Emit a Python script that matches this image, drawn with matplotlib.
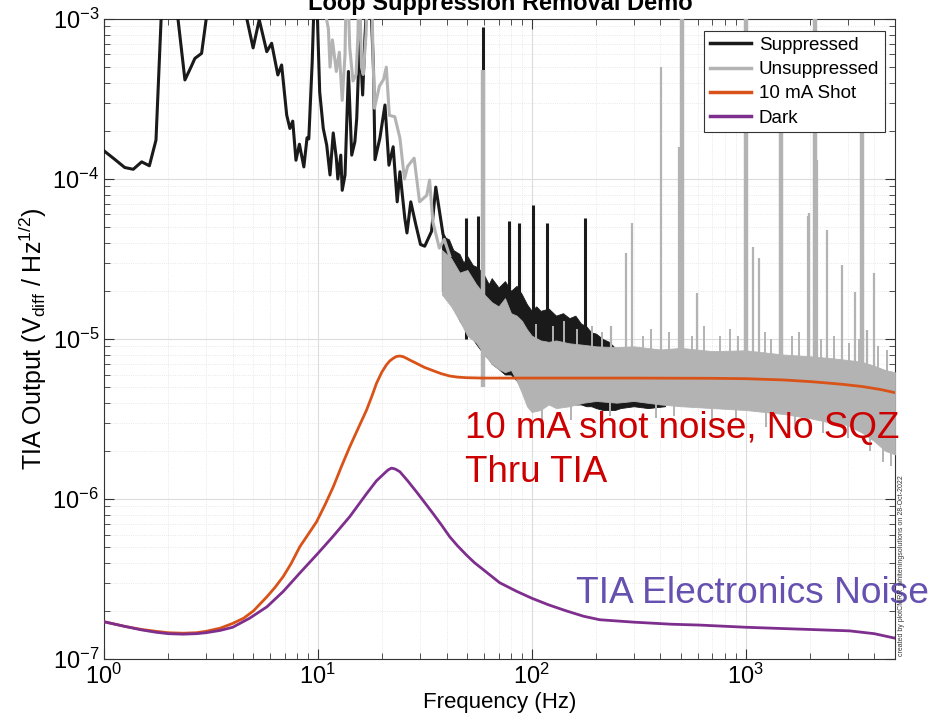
import matplotlib
matplotlib.use('Agg')
import matplotlib.pyplot as plt
import numpy as np

plt.rcParams['font.family'] = ['Liberation Sans', 'DejaVu Sans']
plt.rcParams['mathtext.fontset'] = 'custom'
plt.rcParams['mathtext.rm'] = 'Liberation Sans'
plt.rcParams['mathtext.it'] = 'Liberation Sans:italic'


# Suppressed spectrum, low-frequency part (Hz, V/rtHz)
supp_lf = [(1.00, 1.50e-4), (1.12, 1.33e-4), (1.25, 1.18e-4), (1.37, 1.15e-4), (1.50, 1.28e-4),
           (1.63, 1.21e-4), (1.75, 1.75e-4), (1.86, 1.2e-3), (2.0, 3e-3), (2.2, 1.1e-3),
           (2.39, 4.16e-4), (2.55, 5.0e-4), (2.66, 5.67e-4), (2.86, 6.1e-4), (3.02, 1.05e-3),
           (3.5, 3e-3), (4.2, 2.5e-3), (4.62, 1.05e-3), (4.98, 6.6e-4), (5.32, 9.9e-4),
           (5.77, 6.25e-4), (6.08, 7.05e-4), (6.5, 4.47e-4), (6.77, 5.16e-4), (7.15, 2.51e-4),
           (7.4, 2.07e-4), (7.63, 2.3e-4), (7.9, 1.31e-4), (8.2, 1.65e-4), (8.6, 1.19e-4),
           (8.9, 1.81e-4), (9.07, 1.78e-4), (9.41, 5.4e-4), (9.75, 2.5e-3), (10.2, 3.5e-4),
           (10.6, 2.07e-4), (11.0, 1.63e-4), (11.4, 1.06e-4), (11.8, 1.94e-4), (12.2, 1.35e-4),
           (12.4, 1.0e-4), (12.8, 1.41e-4), (13.0, 8.5e-5), (13.4, 1.06e-4), (13.9, 4.7e-4),
           (14.4, 1.41e-4), (14.9, 1.71e-4), (15.2, 2.4e-4), (15.7, 7.9e-4), (16.2, 3.35e-4),
           (16.6, 7.6e-4), (16.9, 1.2e-3), (17.6, 1.5e-3), (18.2, 5e-4), (18.5, 1.32e-4),
           (19.5, 1.8e-4), (20.6, 2.9e-4), (21.5, 1.22e-4), (22.5, 1.59e-4), (23.5, 7.2e-5),
           (24.2, 1.11e-4), (25.5, 5.7e-5), (26.1, 4.6e-5), (27.2, 7.2e-5), (28.7, 5.2e-5),
           (30.2, 3.9e-5), (31.6, 3.8e-5), (34.0, 4.7e-5), (35.6, 8.9e-5), (38.5, 4.5e-5),
           (41.4, 3.7e-5)]

# Suppressed spectrum above 40 Hz: envelope of the dense trace (Hz, top, bottom)
supp_band = [(38, 4.4e-5, 2.0e-5), (41, 4.2e-5, 1.8e-5), (43, 3.6e-5, 1.6e-5), (46, 3.4e-5, 1.3e-5),
             (48, 3.0e-5, 1.2e-5), (50, 3.3e-5, 1.1e-5), (53, 2.9e-5, 1.0e-5), (56, 2.8e-5, 9e-6),
             (60, 2.5e-5, 8e-6), (63, 2.2e-5, 7.5e-6), (65, 2.4e-5, 7e-6), (70, 2.1e-5, 6.5e-6),
             (75, 2.3e-5, 6e-6), (80, 2.0e-5, 6e-6), (85, 2.15e-5, 5.5e-6), (90, 1.9e-5, 5e-6),
             (95, 1.65e-5, 4.5e-6), (100, 1.5e-5, 4.2e-6), (105, 1.6e-5, 4.2e-6), (110, 1.5e-5, 4.2e-6),
             (120, 1.55e-5, 4.0e-6), (130, 1.4e-5, 4.0e-6), (140, 1.45e-5, 4.0e-6), (150, 1.35e-5, 4.0e-6),
             (160, 1.4e-5, 3.9e-6), (170, 1.25e-5, 3.9e-6), (180, 1.2e-5, 3.8e-6), (190, 1.1e-5, 3.8e-6),
             (200, 1.08e-5, 3.7e-6), (215, 1.0e-5, 3.6e-6), (230, 9.6e-6, 3.6e-6), (245, 8.8e-6, 3.6e-6),
             (260, 7e-6, 3.7e-6), (300, 7e-6, 3.8e-6), (350, 7e-6, 3.7e-6), (420, 7e-6, 3.8e-6)]

# Lines where the suppressed trace pokes above the rest (Hz, peak)
supp_lines = [(49.5, 5.7e-5), (56, 5.9e-5), (59.5, 8.9e-4), (78, 5.5e-5), (87, 5.3e-5),
              (101, 6.9e-5), (118, 5.3e-5), (178, 5.7e-5)]

# Unsuppressed spectrum, low-frequency part
unsupp_lf = [(10.6, 3e-3), (10.9, 1.05e-3), (11.2, 8.7e-4), (11.4, 5.0e-4), (11.7, 7.4e-4),
             (12.2, 4.7e-4), (12.6, 6.2e-4), (13.0, 3.1e-4), (13.4, 6e-4), (13.6, 2e-3),
             (13.9, 1.2e-3), (14.1, 6.6e-4), (14.6, 4.1e-4), (15.1, 4.5e-4), (15.4, 8e-4),
             (15.6, 2e-3), (16.0, 5e-4), (16.3, 4.5e-4), (16.8, 8e-4), (17.2, 2e-3),
             (17.8, 2e-3), (18.1, 6e-4), (18.4, 2.77e-4), (19.4, 3.8e-4), (20.3, 4.2e-4),
             (20.9, 5.0e-4), (21.6, 2.5e-4), (22.9, 2.45e-4), (24.2, 1.8e-4), (25.4, 1.0e-4),
             (26.3, 1.2e-4), (28.2, 1.35e-4), (29.9, 7.2e-5), (32.3, 7.9e-5), (33.3, 9.85e-5),
             (34.5, 5.4e-5), (37.0, 3.7e-5), (39.0, 4.2e-5), (41.4, 3.3e-5)]

# Unsuppressed spectrum above 40 Hz: envelope (Hz, top, bottom)
unsupp_band = [(38, 3.6e-5, 1.9e-5), (42, 3.2e-5, 1.6e-5), (46, 2.6e-5, 1.3e-5), (50, 2.7e-5, 1.05e-5),
               (55, 2.2e-5, 9.5e-6), (60, 1.9e-5, 8e-6), (65, 1.7e-5, 7e-6), (70, 1.6e-5, 6.5e-6),
               (75, 1.8e-5, 6.2e-6), (80, 1.45e-5, 6.4e-6), (85, 1.4e-5, 5.5e-6), (90, 1.3e-5, 4.6e-6),
               (95, 1.15e-5, 3.8e-6), (100, 1.05e-5, 3.5e-6), (110, 9.8e-6, 3.6e-6), (120, 9.6e-6, 3.9e-6),
               (130, 9.8e-6, 3.7e-6), (150, 9.4e-6, 3.8e-6), (175, 9.2e-6, 4.0e-6), (200, 9.0e-6, 4.1e-6),
               (250, 8.9e-6, 4.0e-6), (300, 9.0e-6, 4.1e-6), (400, 8.6e-6, 3.9e-6), (500, 8.8e-6, 3.8e-6),
               (700, 8.4e-6, 3.7e-6), (1000, 8.5e-6, 3.6e-6), (1500, 8.0e-6, 3.4e-6), (2000, 7.8e-6, 3.2e-6),
               (2500, 7.6e-6, 3.0e-6), (3000, 7.4e-6, 2.9e-6), (3500, 7.2e-6, 2.6e-6), (4000, 6.8e-6, 2.3e-6),
               (4500, 6.4e-6, 2.0e-6), (5000, 6.2e-6, 1.9e-6)]

# Spectral lines in the unsuppressed trace (Hz, peak, thick?)
unsupp_lines = [(59.5, 4.8e-4, True), (236, 1.2e-5, False), (276, 3.45e-5, False), (294, 5.3e-5, False),
                (403, 5.0e-4, False), (490, 1.58e-4, False), (505, 3e-3, True), (596, 1.94e-5, False),
                (1000, 3e-3, True), (1080, 3.76e-5, False), (1150, 3.2e-5, False), (1470, 2.08e-4, True),
                (1950, 5.9e-5, False), (1990, 6.1e-5, False), (2120, 3e-3, True), (2150, 1.32e-4, False),
                (2400, 4.8e-5, False), (2830, 2.9e-5, False), (3250, 1.97e-5, False), (3520, 2.34e-4, True),
                (3700, 1.14e-5, False), (3980, 2.6e-5, False)]

# Short excursions on the top and bottom edge of the unsuppressed floor (Hz, value)
unsupp_ripple_up = [(105, 1.25e-5), (126, 1.2e-5), (142, 1.3e-5), (163, 1.15e-5), (191, 1.2e-5),
                    (214, 1.1e-5), (330, 1.05e-5), (362, 1.15e-5), (441, 1.1e-5), (560, 1.05e-5),
                    (640, 1.2e-5), (760, 1.05e-5), (850, 1.15e-5), (920, 1.05e-5), (1230, 1.1e-5),
                    (1320, 1.0e-5), (1650, 1.05e-5), (1780, 1.1e-5), (2250, 1.0e-5), (2600, 1.05e-5),
                    (3050, 9.5e-6), (3400, 1.0e-5), (4150, 9e-6), (4600, 8.5e-6)]
unsupp_ripple_dn = [(112, 3.0e-6), (152, 3.1e-6), (232, 3.3e-6), (380, 3.2e-6), (462, 3.3e-6),
                    (700, 3.0e-6), (905, 3.1e-6), (1250, 2.8e-6), (1700, 2.7e-6), (2300, 2.6e-6),
                    (3000, 2.4e-6), (3800, 2.0e-6), (4400, 1.7e-6), (4800, 1.6e-6)]

# 10 mA shot noise through the TIA
shot = [(1.0, 1.71e-7), (1.25, 1.6e-7), (1.5, 1.53e-7), (1.75, 1.49e-7), (2.0, 1.46e-7),
        (2.34, 1.45e-7), (2.7, 1.46e-7), (3.0, 1.49e-7), (3.5, 1.56e-7), (4.0, 1.67e-7),
        (4.5, 1.8e-7), (5.0, 2.0e-7), (5.78, 2.45e-7), (6.3, 2.8e-7), (6.88, 3.27e-7),
        (7.5, 3.95e-7), (8.24, 5.04e-7), (9.0, 6.0e-7), (9.86, 7.2e-7), (10.8, 9.2e-7),
        (11.8, 1.19e-6), (12.9, 1.6e-6), (14.1, 2.12e-6), (15.5, 2.8e-6), (16.9, 3.6e-6),
        (17.9, 4.4e-6), (18.8, 5.28e-6), (19.9, 6.2e-6), (20.9, 6.88e-6), (21.7, 7.3e-6),
        (22.5, 7.57e-6), (23.3, 7.78e-6), (24.2, 7.83e-6), (25.1, 7.75e-6), (26.0, 7.57e-6),
        (27.4, 7.3e-6), (28.9, 7.05e-6), (31.5, 6.65e-6), (34.6, 6.34e-6), (37.8, 6.07e-6),
        (41.4, 5.87e-6), (45, 5.78e-6), (49.5, 5.73e-6), (59.2, 5.70e-6), (100, 5.7e-6),
        (300, 5.7e-6), (700, 5.68e-6), (1000, 5.65e-6), (1500, 5.55e-6), (2040, 5.41e-6),
        (2800, 5.22e-6), (3540, 5.04e-6), (4300, 4.83e-6), (5000, 4.62e-6)]

# TIA dark noise
dark = [(1.0, 1.71e-7), (1.25, 1.6e-7), (1.5, 1.52e-7), (1.75, 1.47e-7), (2.0, 1.44e-7),
        (2.34, 1.43e-7), (2.7, 1.44e-7), (3.0, 1.46e-7), (3.5, 1.51e-7), (4.0, 1.58e-7),
        (4.8, 1.8e-7), (5.78, 2.12e-7), (6.9, 2.65e-7), (8.24, 3.45e-7), (10.0, 4.57e-7),
        (11.75, 5.82e-7), (14.1, 7.76e-7), (16.9, 1.08e-6), (18.8, 1.3e-6), (20.5, 1.45e-6),
        (21.3, 1.52e-6), (22.1, 1.56e-6), (23.0, 1.54e-6), (24.2, 1.48e-6), (26.3, 1.3e-6),
        (28.9, 1.11e-6), (31.6, 9.5e-7), (34.6, 8.1e-7), (37.8, 6.9e-7), (41.4, 5.8e-7),
        (45, 5.1e-7), (49.5, 4.47e-7), (54, 4.0e-7), (59.2, 3.63e-7), (70.8, 3.0e-7),
        (85, 2.65e-7), (100, 2.4e-7), (120, 2.18e-7), (145, 2.0e-7), (175, 1.85e-7),
        (208, 1.76e-7), (300, 1.7e-7), (450, 1.65e-7), (610, 1.63e-7), (1000, 1.58e-7),
        (1500, 1.55e-7), (2000, 1.53e-7), (3060, 1.50e-7), (4000, 1.44e-7), (5000, 1.35e-7)]


def cols(pts):
    return [np.array(c) for c in zip(*pts)]


fig = plt.figure(figsize=(9.32, 7.25), dpi=100)
ax = fig.add_axes([0.1116, 0.091, 0.8487, 0.8828])

black = '#1a1a1a'
grey = '#b3b3b3'

# Suppressed
f, v = cols(supp_lf)
ax.loglog(f, v, color=black, lw=2.2, label='Suppressed', zorder=3)
f, hi, lo = cols(supp_band)
ax.fill_between(f, lo, hi, color=black, lw=0.6, zorder=3)
f, v = cols(supp_lines)
ax.vlines(f, 1e-5, v, color=black, lw=2.2, zorder=3)

# Unsuppressed
f, v = cols(unsupp_lf)
ax.loglog(f, v, color=grey, lw=2.2, label='Unsuppressed', zorder=4)
f, hi, lo = cols(unsupp_band)
ax.fill_between(f, lo, hi, color=grey, lw=0.6, zorder=4)
f, v, thick = cols(unsupp_lines)
ax.vlines(f, 5e-6, v, color=grey, lw=np.where(thick, 3.2, 1.6), zorder=4)
f, v = cols(unsupp_ripple_up)
ax.vlines(f, 5e-6, v, color=grey, lw=1.4, zorder=4)
f, v = cols(unsupp_ripple_dn)
ax.vlines(f, v, 5e-6, color=grey, lw=1.4, zorder=4)

# Reference curves
f, v = cols(shot)
ax.loglog(f, v, color='#d95319', lw=2.0, label='10 mA Shot', zorder=5)
f, v = cols(dark)
ax.loglog(f, v, color='#7e2f8e', lw=2.0, label='Dark', zorder=5)

ax.set_xlim(1, 5000)
ax.set_ylim(1e-7, 1e-3)
ax.grid(True, which='major', color='#dcdcdc', lw=0.8)
ax.grid(True, which='minor', color='#e2e2e2', lw=0.6, ls=':')
ax.set_axisbelow(True)
ax.tick_params(which='both', direction='in', top=True, right=True, labelsize=17, color='#333333')
ax.tick_params(which='major', length=7, width=0.8)
ax.tick_params(which='minor', length=4, width=0.6)
for s in ax.spines.values():
    s.set_color('#333333')
    s.set_linewidth(0.8)

ax.set_xlabel('Frequency (Hz)', fontsize=16, labelpad=2)
ax.set_ylabel(r'TIA Output (V$_{\rm diff}$ / Hz$^{1/2}$)', fontsize=18, labelpad=2)
fig.text(0.5365, 1 - 10 / 725, 'Loop Suppression Removal Demo', ha='center', va='baseline',
         fontsize=17, fontweight='bold')

leg = ax.legend(loc='upper right', bbox_to_anchor=(0.987, 0.981), fontsize=13.5, frameon=True,
                fancybox=False, edgecolor='#333333', framealpha=1, handlelength=2.2,
                handletextpad=0.4, labelspacing=0.38, borderpad=0.3, borderaxespad=0)
leg.get_frame().set_linewidth(0.8)
for h in leg.get_lines():
    h.set_linewidth(2.5)

# Annotations
ax.text(48.6, 2.4e-6, '10 mA shot noise, No SQZ', color='#cc0000', fontsize=26.5, va='baseline', zorder=6)
ax.text(48.6, 1.28e-6, 'Thru TIA', color='#cc0000', fontsize=26.5, va='baseline', zorder=6)
ax.text(161.8, 2.24e-7, 'TIA Electronics Noise', color='#6650b0', fontsize=26.7, va='baseline',
        clip_on=False, zorder=6)

fig.text(0.9635, 0.095, 'created by plotCMRR_whiteningsolutions on 28-Oct-2022', rotation=90,
         fontsize=5, ha='left', va='bottom', color='#333333')

fig.savefig('out.png', dpi=100)
